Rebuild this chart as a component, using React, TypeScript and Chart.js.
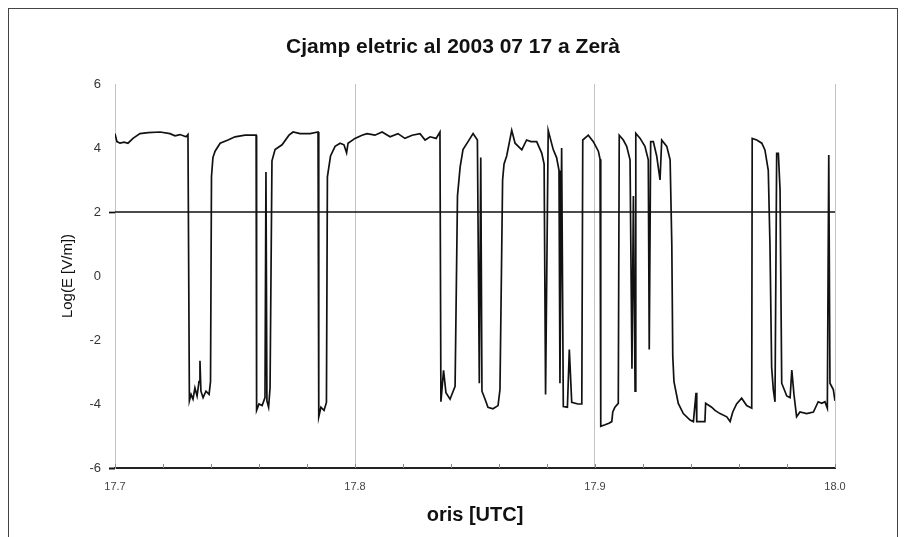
import React, { useEffect, useRef } from 'react';
import { Chart, registerables } from 'chart.js';

Chart.register(...registerables);

const chartTitle = 'Cjamp eletric al 2003 07 17 a Zerà';
const xAxisTitle = 'oris [UTC]';
const yAxisTitle = 'Log(E [V/m])';
const xMajorTicks = [17.7, 17.8, 17.9, 18.0];
const xMinorStep = 0.02;
const yMin = -6;
const yMax = 6;
const yStep = 2;
const thresholdValue = 2;

// time in decimal hours (UTC)
const times = [
  17.7000, 17.7008, 17.7021, 17.7038, 17.7054, 17.7075, 17.7104, 17.7138, 17.7188, 17.7229,
  17.7250, 17.7271, 17.7296, 17.7304, 17.7310, 17.7317, 17.7325, 17.7333, 17.7342, 17.7350,
  17.7354, 17.7358, 17.7367, 17.7379, 17.7392, 17.7398, 17.7402, 17.7408, 17.7417, 17.7438,
  17.7471, 17.7500, 17.7542, 17.7588, 17.7590, 17.7600, 17.7613, 17.7625, 17.7629, 17.7633,
  17.7640, 17.7646, 17.7654, 17.7667, 17.7696, 17.7725, 17.7742, 17.7771, 17.7813, 17.7846,
  17.7849, 17.7858, 17.7871, 17.7881, 17.7885, 17.7898, 17.7917, 17.7938, 17.7954, 17.7965,
  17.7971, 17.8000, 17.8029, 17.8050, 17.8083, 17.8113, 17.8146, 17.8179, 17.8208, 17.8238,
  17.8271, 17.8292, 17.8313, 17.8338, 17.8354, 17.8358, 17.8369, 17.8379, 17.8396, 17.8417,
  17.8427, 17.8438, 17.8450, 17.8471, 17.8492, 17.8510, 17.8518, 17.8524, 17.8529, 17.8542,
  17.8554, 17.8575, 17.8596, 17.8604, 17.8615, 17.8621, 17.8632, 17.8653, 17.8667, 17.8695,
  17.8715, 17.8733, 17.8757, 17.8778, 17.8788, 17.8794, 17.8805, 17.8826, 17.8840, 17.8850,
  17.8854, 17.8861, 17.8868, 17.8885, 17.8893, 17.8903, 17.8929, 17.8945, 17.8949, 17.8972,
  17.8993, 17.9014, 17.9021, 17.9024, 17.9042, 17.9058, 17.9070, 17.9074, 17.9083, 17.9097,
  17.9101, 17.9118, 17.9132, 17.9146, 17.9154, 17.9160, 17.9167, 17.9170, 17.9188, 17.9208,
  17.9222, 17.9226, 17.9232, 17.9243, 17.9257, 17.9271, 17.9278, 17.9299, 17.9313, 17.9320,
  17.9324, 17.9329, 17.9347, 17.9368, 17.9396, 17.9410, 17.9421, 17.9424, 17.9458, 17.9461,
  17.9486, 17.9500, 17.9521, 17.9549, 17.9563, 17.9574, 17.9590, 17.9611, 17.9632, 17.9653,
  17.9655, 17.9674, 17.9695, 17.9708, 17.9722, 17.9729, 17.9736, 17.9743, 17.9750, 17.9757,
  17.9764, 17.9771, 17.9778, 17.9799, 17.9813, 17.9820, 17.9829, 17.9840, 17.9854, 17.9882,
  17.9910, 17.9930, 17.9945, 17.9958, 17.9968, 17.9974, 17.9979, 17.9993, 18.0000,
];

// Log(E [V/m])
const logE = [
  4.45, 4.20, 4.15, 4.18, 4.15, 4.30, 4.45, 4.48, 4.50, 4.45,
  4.38, 4.42, 4.35, 4.42, -3.90, -3.70, -3.85, -3.50, -3.75, -3.30,
  -2.65, -3.60, -3.80, -3.60, -3.70, -3.30, 3.10, 3.70, 3.90, 4.15,
  4.25, 4.35, 4.40, 4.40, -4.20, -4.00, -4.05, -3.80, 3.25, -3.90,
  -4.10, -3.50, 3.60, 3.95, 4.10, 4.40, 4.50, 4.45, 4.45, 4.50,
  -4.40, -4.10, -4.20, -3.95, 3.10, 3.75, 4.05, 4.15, 4.10, 3.85,
  4.15, 4.30, 4.40, 4.45, 4.40, 4.50, 4.35, 4.45, 4.30, 4.40,
  4.45, 4.25, 4.35, 4.30, 4.50, -3.93, -2.95, -3.65, -3.85, -3.45,
  2.50, 3.40, 3.95, 4.20, 4.45, 4.25, -3.35, 3.70, -3.60, -3.85,
  -4.10, -4.15, -4.05, -3.55, 3.00, 3.50, 3.75, 4.55, 4.15, 3.94,
  4.25, 4.20, 4.20, 3.84, 3.50, -3.70, 4.55, 3.95, 3.70, 3.30,
  -3.35, 4.00, -4.08, -4.10, -2.30, -3.95, -4.00, -4.00, 4.25, 4.40,
  4.20, 3.90, 3.65, -4.70, -4.65, -4.60, -4.55, -4.25, -4.10, -3.98,
  4.40, 4.25, 4.05, 3.63, -2.90, 2.50, -3.60, 4.46, 4.30, 4.05,
  3.63, -2.30, 4.20, 4.20, 3.75, 3.00, 4.25, 4.05, 3.63, 1.00,
  -2.50, -3.30, -3.98, -4.30, -4.50, -4.55, -3.65, -4.55, -4.55, -3.98,
  -4.10, -4.20, -4.30, -4.40, -4.55, -4.25, -4.00, -3.82, -4.05, -4.13,
  4.30, 4.25, 4.15, 3.94, 3.30, 1.00, -2.85, -3.55, -3.93, 3.83,
  3.83, 2.70, -3.35, -3.75, -3.80, -2.94, -3.70, -4.40, -4.25, -4.30,
  -4.25, -3.93, -3.98, -3.93, -4.13, 3.78, -3.35, -3.55, -3.90,
];

const isMajor = (v: number) => Math.abs(v * 10 - Math.round(v * 10)) < 1e-6;

const minorTicksPlugin = {
  id: 'minorTicks',
  afterDraw(chart: any) {
    const xs = chart.scales.x;
    const ctx = chart.ctx;
    const bottom = chart.chartArea.bottom;
    ctx.save();
    ctx.strokeStyle = '#8a8a8a';
    ctx.lineWidth = 1;
    xs.ticks.forEach((t: any) => {
      const px = Math.round(xs.getPixelForValue(t.value)) + 0.5;
      ctx.beginPath();
      ctx.moveTo(px, bottom - 4);
      ctx.lineTo(px, bottom);
      ctx.stroke();
    });
    ctx.restore();
  },
};

export default function App() {
  const ref = useRef<HTMLCanvasElement | null>(null);

  useEffect(() => {
    if (!ref.current) return;
    Chart.defaults.font.family = '"Liberation Sans", Arial, sans-serif';
    const series = times.map((t, i) => ({ x: t, y: logE[i] }));
    const xMin = xMajorTicks[0];
    const xMax = xMajorTicks[xMajorTicks.length - 1];
    const threshold = [
      { x: xMin, y: thresholdValue },
      { x: xMax, y: thresholdValue },
    ];
    const chart = new Chart(ref.current, {
      type: 'line',
      data: {
        datasets: [
          {
            data: series,
            borderColor: '#111',
            borderWidth: 1.7,
            pointRadius: 0,
            tension: 0,
            fill: false,
          },
          {
            data: threshold,
            borderColor: '#111',
            borderWidth: 1.7,
            pointRadius: 0,
            fill: false,
          },
        ],
      },
      options: {
        animation: false,
        responsive: false,
        maintainAspectRatio: false,
        events: [],
        layout: { padding: { left: 0, right: 0, top: 0, bottom: 0 } },
        plugins: {
          legend: { display: false },
          tooltip: { enabled: false },
          title: {
            display: true,
            text: chartTitle,
            color: '#111',
            font: { size: 21, weight: 'bold' },
            padding: { top: 25.4, bottom: 24.4 },
          },
        },
        scales: {
          x: {
            type: 'linear',
            min: xMin,
            max: xMax,
            afterBuildTicks: (scale: any) => {
              const n = Math.round((xMax - xMin) / xMinorStep);
              const ticks = [];
              for (let i = 0; i <= n; i++) {
                ticks.push({ value: Math.round((xMin + i * xMinorStep) * 1000) / 1000 });
              }
              scale.ticks = ticks;
            },
            afterFit: (scale: any) => {
              scale.height = 69;
            },
            ticks: {
              autoSkip: false,
              maxRotation: 0,
              padding: 12,
              color: '#444',
              font: { size: 11 },
              callback: (v: any) => (isMajor(Number(v)) ? Number(v).toFixed(1) : ''),
            },
            grid: {
              drawTicks: false,
              color: (ctx: any) => (ctx.tick && isMajor(ctx.tick.value) ? '#c4c4c4' : 'rgba(0,0,0,0)'),
              lineWidth: 1,
            },
            border: { display: true, color: '#222', width: 2 },
            title: {
              display: true,
              text: xAxisTitle,
              color: '#111',
              font: { size: 20, weight: 'bold' },
              padding: { top: 0, bottom: 10 },
            },
          },
          y: {
            min: yMin,
            max: yMax,
            afterFit: (scale: any) => {
              scale.width = 106;
            },
            ticks: {
              stepSize: yStep,
              padding: 8,
              color: '#333',
              font: { size: 13 },
            },
            grid: {
              drawOnChartArea: false,
              drawTicks: true,
              tickLength: 6,
              tickColor: (ctx: any) =>
                ctx.tick && (ctx.tick.value === thresholdValue || ctx.tick.value === yMin) ? '#111' : 'rgba(0,0,0,0)',
              tickWidth: (ctx: any) => (ctx.tick && ctx.tick.value === yMin ? 2 : 1.7),
            },
            border: { display: true, color: '#c4c4c4', width: 1 },
            title: {
              display: true,
              text: yAxisTitle,
              color: '#111',
              font: { size: 15 },
              padding: { top: 50, bottom: 0 },
            },
          },
          yRight: {
            position: 'right',
            min: yMin,
            max: yMax,
            afterFit: (scale: any) => {
              scale.width = 62;
            },
            ticks: { display: false },
            grid: { display: false, drawTicks: false },
            border: { display: false },
          },
        },
      },
      plugins: [minorTicksPlugin],
    } as any);
    return () => chart.destroy();
  }, []);

  return (
    <div
      style={{
        position: 'fixed',
        left: 8,
        top: 8,
        width: 888,
        height: 540,
        borderLeft: '1px solid #444',
        borderTop: '1px solid #444',
        borderRight: '1px solid #444',
        background: '#fff',
      }}
    >
      <canvas ref={ref} width={888} height={528} style={{ display: 'block', width: 888, height: 528 }} />
    </div>
  );
}
